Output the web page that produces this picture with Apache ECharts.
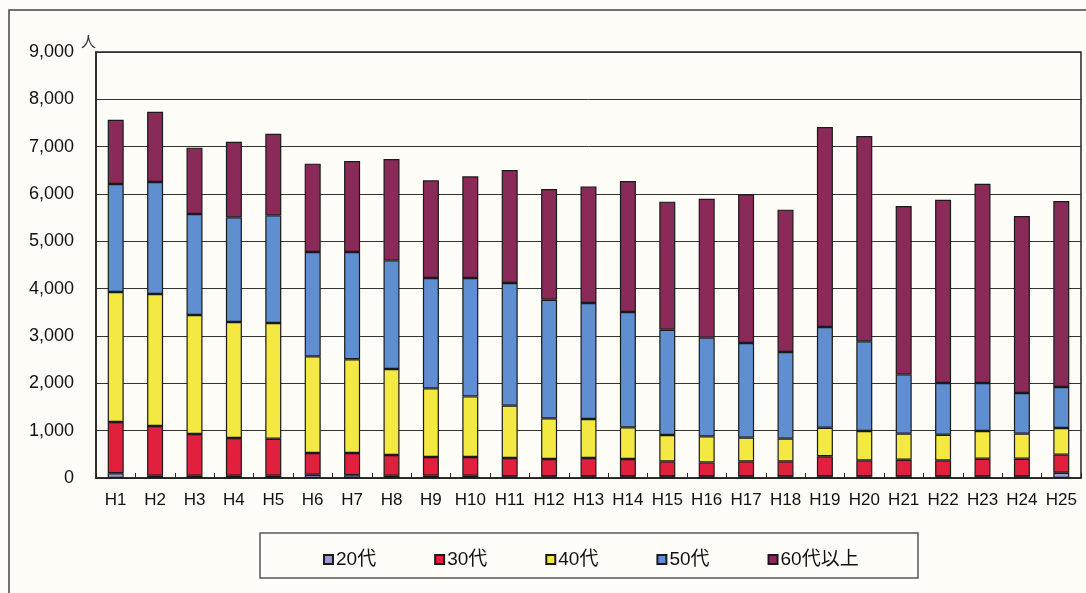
<!DOCTYPE html>
<html><head><meta charset="utf-8">
<script src="https://cdn.jsdelivr.net/npm/echarts@6/dist/echarts.min.js"></script>
<style>html,body{margin:0;padding:0;background:#fdfcf6;}#c{width:1086px;height:593px;}</style>
</head><body><div id="c"></div>
<script>
const categories = ['H1','H2','H3','H4','H5','H6','H7','H8','H9','H10','H11','H12','H13','H14','H15','H16','H17','H18','H19','H20','H21','H22','H23','H24','H25'];
const age20 = [100,50,50,50,50,70,60,50,50,50,40,40,40,40,40,40,40,40,40,40,40,40,40,40,110];
const age30 = [1083,1049,880,795,780,458,468,436,394,394,382,361,382,361,312,290,312,312,418,333,347,333,368,368,383];
const age40 = [2747,2789,2514,2451,2445,2042,1982,1817,1450,1280,1106,859,825,669,556,550,500,479,605,620,550,542,585,529,563];
const age50 = [2281,2366,2134,2211,2274,2205,2265,2295,2332,2502,2592,2507,2450,2437,2225,2085,2000,1831,2127,1894,1253,1092,1014,859,867];
const age60 = [1359,1485,1401,1598,1725,1866,1923,2142,2062,2147,2388,2339,2464,2768,2705,2935,3141,3007,4225,4338,3556,3873,4211,3739,3929];
const seriesNames = ['20代','30代','40代','50代','60代以上'];
const seriesColors = ['#9a9ad0','#e0203c','#f4e842','#5f8fd0','#8a2a58'];
const yTicks = [0,1000,2000,3000,4000,5000,6000,7000,8000,9000];

const FONT = '"Liberation Sans","Noto Sans CJK JP",sans-serif';
const chart = echarts.init(document.getElementById('c'));
const dataArr = [age20, age30, age40, age50, age60];
chart.setOption({
  backgroundColor: '#fdfcf6',
  animation: false,
  graphic: [
    {type:'rect', shape:{x:9, y:10, width:1100, height:620}, style:{fill:'none', stroke:'#444', lineWidth:1.5}, z:-1},
    {type:'rect', shape:{x:260, y:533, width:658, height:45}, style:{fill:'#fdfcf6', stroke:'#555', lineWidth:1.5}, z:0}
  ],
  grid: {left:96, right:5, top:52, bottom:115, show:true, borderColor:'#222', borderWidth:1.5},
  legend: {
    data: seriesNames, left: 318, top: 545, itemWidth: 9, itemHeight: 9, itemGap: 58,
    icon: 'rect',
    textStyle: {fontFamily: FONT, fontSize: 19, color:'#111', padding:[0,0,0,-2]}
  },
  xAxis: {
    type: 'category', data: categories,
    axisLine: {lineStyle:{color:'#222', width:1.5}},
    axisTick: {show:true, inside:true, length:5, lineStyle:{color:'#222'}},
    axisLabel: {interval: 0, fontFamily: FONT, fontSize: 17, color:'#111', margin: 14}
  },
  yAxis: {
    type: 'value', min: 0, max: 9000, interval: 1000,
    name: '人', nameGap: 2,
    nameTextStyle: {fontFamily: FONT, fontSize: 15, color:'#333', align:'right', verticalAlign:'bottom'},
    axisLine: {show:true, lineStyle:{color:'#222', width:1.5}},
    axisTick: {show:false},
    splitLine: {lineStyle:{color:'#333', width:1}},
    axisLabel: {fontFamily: FONT, fontSize: 18, color:'#111', margin: 22,
      formatter: v => yTicks.includes(v) ? v.toLocaleString('en-US') : ''}
  },
  series: seriesNames.map((n,i) => ({
    name: n, type: 'bar', stack: 'total', data: dataArr[i], barWidth: 16,
    itemStyle: {color: seriesColors[i], borderColor:'#1a1a1a', borderWidth:1.2}
  }))
});
</script></body></html>
